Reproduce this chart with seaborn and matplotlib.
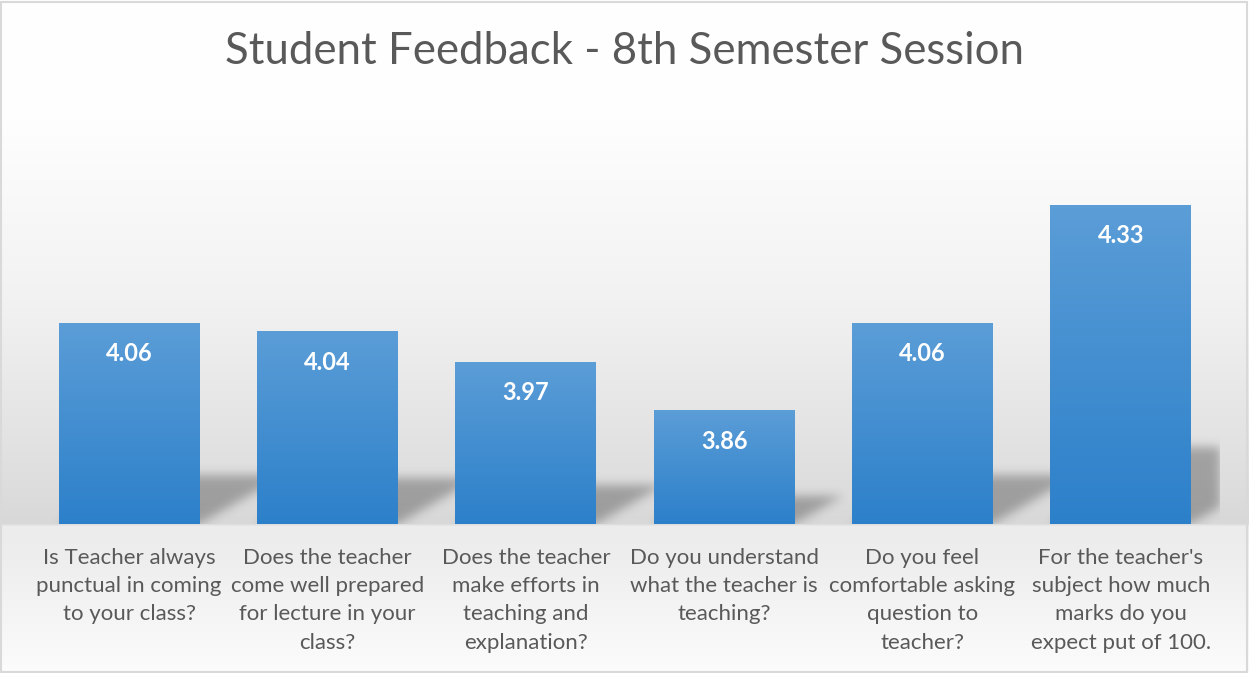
import matplotlib
matplotlib.use("Agg")
import matplotlib.pyplot as plt
import seaborn as sns
import numpy as np
import pandas as pd

# Daten
questions = [
    "Is Teacher always\npunctual in coming\nto your class?",
    "Does the teacher\ncome well prepared\nfor lecture in your\nclass?",
    "Does the teacher\nmake efforts in\nteaching and\nexplanation?",
    "Do you understand\nwhat the teacher is\nteaching?",
    "Do you feel\ncomfortable asking\nquestion to\nteacher?",
    "For the teacher's\nsubject how much\nmarks do you\nexpect put of 100.",
]
scores = [4.06, 4.04, 3.97, 3.86, 4.06, 4.33]
title = "Student Feedback - 8th Semester Session"

ymin, ymax = 3.6, 4.5
bar_w = 0.71

sns.set_theme(style="white")
plt.rcParams["font.family"] = ["Lato", "DejaVu Sans"]

fig = plt.figure(figsize=(12.49, 6.73), dpi=100)

# Hintergrund-Verlauf (wie Excel)
bg = fig.add_axes([0, 0, 1, 1], zorder=-10)
stops_y = [0, 120, 300, 480, 523, 526, 560, 673]
stops_g = [255, 254, 242, 222, 216, 236, 238, 252]
rows = np.interp(np.arange(673), stops_y, stops_g) / 255.0
bg.imshow(np.repeat(rows[:, None], 2, axis=1)[:, :, None].repeat(3, axis=2),
          aspect="auto", extent=[0, 1, 0, 1], interpolation="bilinear")
bg.set_xlim(0, 1)
bg.set_ylim(0, 1)
bg.axis("off")

ax_w_px, ax_h_px = 1190, 393
ax = fig.add_axes([30 / 1249, (673 - 524) / 673, ax_w_px / 1249, ax_h_px / 673])
ax.patch.set_alpha(0)

df = pd.DataFrame({"question": questions, "score": scores})
sns.barplot(data=df, x="question", y="score", width=bar_w, ax=ax,
            color="#5b9bd5", saturation=1, zorder=3)
ax.set_xlim(-0.5, len(scores) - 0.5)
ax.set_ylim(ymin, ymax)

# Schatten hinter den Balken (perspektivisch geschert, weichgezeichnet)
px_per_cat = ax_w_px / len(scores)
px_per_unit = ax_h_px / (ymax - ymin)
gx = np.linspace(-0.5, len(scores) - 0.5, ax_w_px)
gy = np.linspace(ymin, ymax, ax_h_px)
X, Y = np.meshgrid(gx, gy)
mask = np.zeros_like(X)
for i, v in enumerate(scores):
    h_px = (v - ymin) * px_per_unit
    dy = 0.24 * (v - ymin)
    dx = 0.42 * h_px / px_per_cat
    t = np.clip((Y - ymin) / dy, 0, 1)
    shift = dx * t
    inside = (Y <= ymin + dy) & (X >= i - bar_w / 2 + shift) & (X <= i + bar_w / 2 + shift)
    mask[inside] = 1.0
k = np.exp(-0.5 * (np.arange(-18, 19) / 5.0) ** 2)
k /= k.sum()
mask = np.apply_along_axis(lambda r: np.convolve(r, k, mode="same"), 1, mask)
mask = np.apply_along_axis(lambda c: np.convolve(c, k, mode="same"), 0, mask)
shadow = np.zeros(mask.shape + (4,))
shadow[..., 3] = 0.28 * mask
ax.imshow(shadow, extent=[gx[0], gx[-1], ymin, ymax], origin="lower",
          aspect="auto", zorder=1)

# Balken mit Farbverlauf
top = np.array([91, 157, 215]) / 255
bot = np.array([44, 128, 202]) / 255
grad = np.linspace(0, 1, 100)[:, None]
for p in ax.patches:
    x0, w, h = p.get_x(), p.get_width(), p.get_height()
    p.set_visible(False)
    img = bot + (top - bot) * grad[..., None] * np.ones((1, 1, 3))
    ax.imshow(img, extent=[x0, x0 + w, ymin, h], origin="lower",
              aspect="auto", zorder=3)
ax.set_xlim(-0.5, len(scores) - 0.5)
ax.set_ylim(ymin, ymax)

for i, v in enumerate(scores):
    ax.annotate(f"{v:.2f}", (i, v), xytext=(0, -22), textcoords="offset points",
                ha="center", va="center", color="white", fontsize=17,
                fontweight="bold")

ax.set_xlabel("")
ax.set_ylabel("")
ax.set_yticks([])
ax.set_xticks(range(len(questions)))
ax.set_xticklabels(questions, linespacing=1.52, va="top")
ax.tick_params(axis="x", length=0, pad=17, labelsize=16, labelcolor="#595959")
for s in ax.spines.values():
    s.set_visible(False)

fig.text(0.5, 1 - 52 / 673, title, ha="center", va="center",
         fontsize=31.5, color="#595959", fontweight="normal")

# Rahmen
fig.patches.append(plt.Rectangle((0.001, 0.002), 0.997, 0.995, transform=fig.transFigure,
                                 fill=False, edgecolor="#d9d9d9", linewidth=1.5))

fig.savefig("out.png", dpi=100)
plt.close(fig)
